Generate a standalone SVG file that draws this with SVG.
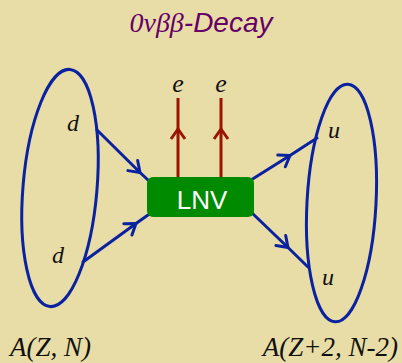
<svg xmlns="http://www.w3.org/2000/svg" width="402" height="363" viewBox="0 0 402 363">
<defs>
<style>
.ser{font-family:"Liberation Serif","Times New Roman",serif;font-style:italic;fill:#111}
.bl{fill:none;stroke:#0a22a0;stroke-width:3;stroke-linecap:round}
.rd{fill:none;stroke:#9a1500;stroke-width:3}
</style>
<marker id="chb" markerUnits="userSpaceOnUse" markerWidth="24" markerHeight="24" viewBox="-12 -12 24 24" refX="0" refY="0" orient="auto">
<path d="M -10 -7 L 0 0 L -10 7" fill="none" stroke="#0a22a0" stroke-width="3" stroke-linecap="round" stroke-linejoin="round"/>
</marker>
<marker id="chr" markerUnits="userSpaceOnUse" markerWidth="24" markerHeight="24" viewBox="-12 -12 24 24" refX="0" refY="0" orient="auto">
<path d="M -10 -7 L 0 0 L -10 7" fill="none" stroke="#9a1500" stroke-width="3" stroke-linejoin="round"/>
</marker>
</defs>
<rect width="402" height="363" fill="#e9dda7"/>
<text x="201" y="32" text-anchor="middle" font-size="28" fill="#660066" font-style="italic"><tspan font-family="Liberation Serif, serif">0νββ</tspan><tspan font-family="Liberation Sans, Arial, sans-serif">-Decay</tspan></text>

<g id="nucleus-left">
<ellipse cx="60" cy="188" rx="37" ry="119" transform="rotate(4.8 60 188)" class="bl"/>
<text class="ser" x="73" y="131" font-size="24" text-anchor="middle">d</text>
<text class="ser" x="58" y="263" font-size="24" text-anchor="middle">d</text>
</g>
<g id="nucleus-right">
<ellipse cx="341.5" cy="203" rx="34.5" ry="119" transform="rotate(3.1 341.5 203)" class="bl"/>
<text class="ser" x="334" y="138" font-size="24" text-anchor="middle">u</text>
<text class="ser" x="328" y="285" font-size="24" text-anchor="middle">u</text>
</g>

<g id="connectors">
<path class="bl" d="M 97 130 L 140 172.5 L 148 180" marker-mid="url(#chb)"/>
<path class="bl" d="M 83 262 L 136 223.5 L 148 215" marker-mid="url(#chb)"/>
<path class="bl" d="M 251 180 L 290 155.5 L 317 138" marker-mid="url(#chb)"/>
<path class="bl" d="M 252 213 L 288 247.5 L 308 267" marker-mid="url(#chb)"/>
<path class="rd" d="M 178 177 L 178 129 L 178 98" marker-mid="url(#chr)"/>
<path class="rd" d="M 221 177 L 221 129 L 221 98" marker-mid="url(#chr)"/>
</g>

<g id="lnv">
<rect x="147" y="177" width="107" height="40" rx="6" fill="#008a00"/>
<text x="202" y="209" text-anchor="middle" font-family="Liberation Sans, Arial, sans-serif" font-size="26" fill="#ffffff">LNV</text>
</g>
<g id="electrons">
<text class="ser" x="178" y="92" font-size="26" text-anchor="middle">e</text>
<text class="ser" x="221" y="92" font-size="26" text-anchor="middle">e</text>
</g>
<text class="ser" x="10" y="356" font-size="27">A(Z, N)</text>
<text class="ser" x="398" y="356" font-size="27" text-anchor="end">A(Z+2, N-2)</text>
</svg>
